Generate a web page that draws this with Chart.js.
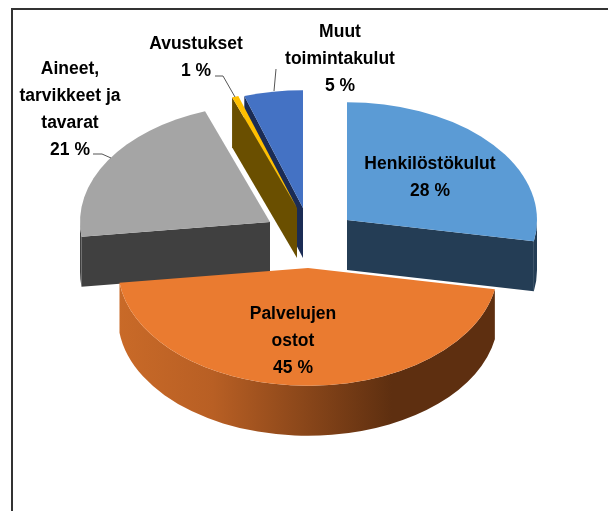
<!DOCTYPE html>
<html lang="fi">
<head>
<meta charset="utf-8">
<title>Kulut</title>
<script src="https://cdn.jsdelivr.net/npm/chart.js@4"></script>
<style>
  html, body { margin: 0; padding: 0; background: #fff; overflow: hidden; }
  #wrap { position: relative; width: 608px; height: 511px; }
  #kehys { position: absolute; left: 11px; top: 8px; right: 0; bottom: 0; border-left: 2px solid #333; border-top: 2px solid #333; }
  canvas { position: absolute; left: 0; top: 0; }
</style>
</head>
<body>
<div id="wrap">
  <div id="kehys"></div>
  <canvas id="kaavio" width="608" height="511"></canvas>
</div>
<script>
const categories = [
  ["Henkilöstökulut"],
  ["Palvelujen", "ostot"],
  ["Aineet,", "tarvikkeet ja", "tavarat"],
  ["Avustukset"],
  ["Muut", "toimintakulut"]
];
const shares = [27.9, 45.1, 21.45, 0.55, 5.0];
const topColors = ["#5b9bd5", "#ea7b30", "#a5a5a5", "#ffc000", "#4472c4"];
const sideColors = ["#243d55", "#ea7b30", "#404040", "#6a4f00", "#1b2c55"];

// Ulkoasu: viipaleiden siirto, piirtojärjestys, tekstien paikat
const squash = 0.62;
const depth = 50;
const shift = [[43, -35.5], [4, 12.5], [-34, -33.5], [-7, -47.5], [-1, -47.5]];
const drawOrder = [4, 3, 2, 0, 1];
const labelPos = [[430, 164], [293, 314], [70, 69], [196, 44], [340, 32]];
const lineGap = 27;
const leaders = [
  null,
  null,
  [[93, 154], [102, 154], [111, 158]],
  [[215, 76], [223, 76], [235, 97]],
  [[276, 69], [274, 91]]
];

function sideFace(ctx, cx, cy, rx, ry, angle, color) {
  const px = cx + rx * Math.cos(angle);
  const py = cy + ry * Math.sin(angle);
  ctx.beginPath();
  ctx.moveTo(cx, cy);
  ctx.lineTo(px, py);
  ctx.lineTo(px, py + depth);
  ctx.lineTo(cx, cy + depth);
  ctx.closePath();
  ctx.fillStyle = color;
  ctx.fill();
}

const pie3d = {
  id: "pie3d",
  beforeDatasetDraw(chart) {
    const ctx = chart.ctx;
    const arcs = chart.getDatasetMeta(0).data;
    drawOrder.forEach(function (i) {
      const arc = arcs[i];
      const cx = arc.x + shift[i][0];
      const cy = arc.y + shift[i][1];
      const rx = arc.outerRadius;
      const ry = rx * squash;
      const start = arc.startAngle;
      const end = arc.endAngle;

      if (Math.cos(start) < 0) sideFace(ctx, cx, cy, rx, ry, start, sideColors[i]);
      if (Math.cos(end) > 0) sideFace(ctx, cx, cy, rx, ry, end, sideColors[i]);

      // Ulkoreuna, vain etupuoli näkyy
      const a = Math.max(start, 0);
      const b = Math.min(end, Math.PI);
      if (b > a) {
        let fill = sideColors[i];
        if (i === 1) {
          fill = ctx.createLinearGradient(cx - rx, 0, cx + rx, 0);
          fill.addColorStop(0, "#c96a28");
          fill.addColorStop(0.25, "#b85f24");
          fill.addColorStop(0.72, "#5e2f10");
          fill.addColorStop(1, "#5e2f10");
        }
        ctx.beginPath();
        ctx.ellipse(cx, cy, rx, ry, 0, a, b);
        ctx.ellipse(cx, cy + depth, rx, ry, 0, b, a, true);
        ctx.closePath();
        ctx.fillStyle = fill;
        ctx.fill();
      }

      ctx.beginPath();
      ctx.moveTo(cx, cy);
      ctx.ellipse(cx, cy, rx, ry, 0, start, end);
      ctx.closePath();
      ctx.fillStyle = topColors[i];
      ctx.fill();
    });
    return false;
  },
  afterDatasetsDraw(chart) {
    const ctx = chart.ctx;
    ctx.save();
    ctx.strokeStyle = "#555";
    ctx.lineWidth = 1;
    leaders.forEach(function (viiva) {
      if (!viiva) return;
      ctx.beginPath();
      viiva.forEach(function (p, j) {
        if (j === 0) ctx.moveTo(p[0], p[1]);
        else ctx.lineTo(p[0], p[1]);
      });
      ctx.stroke();
    });

    ctx.font = "bold 17.5px 'Liberation Sans', Arial, sans-serif";
    ctx.fillStyle = "#000";
    ctx.textAlign = "center";
    ctx.textBaseline = "middle";
    categories.forEach(function (rivit, i) {
      const x = labelPos[i][0];
      let y = labelPos[i][1];
      rivit.concat(Math.round(shares[i]) + " %").forEach(function (rivi) {
        ctx.fillText(rivi, x, y);
        y += lineGap;
      });
    });
    ctx.restore();
  }
};

new Chart(document.getElementById("kaavio"), {
  type: "pie",
  data: {
    labels: categories.map(function (c) { return c.join(" "); }),
    datasets: [{ data: shares, backgroundColor: topColors, borderWidth: 0 }]
  },
  options: {
    responsive: false,
    animation: false,
    radius: 190,
    layout: { padding: 0 },
    plugins: { legend: { display: false }, tooltip: { enabled: false } }
  },
  plugins: [pie3d]
});
</script>
</body>
</html>
